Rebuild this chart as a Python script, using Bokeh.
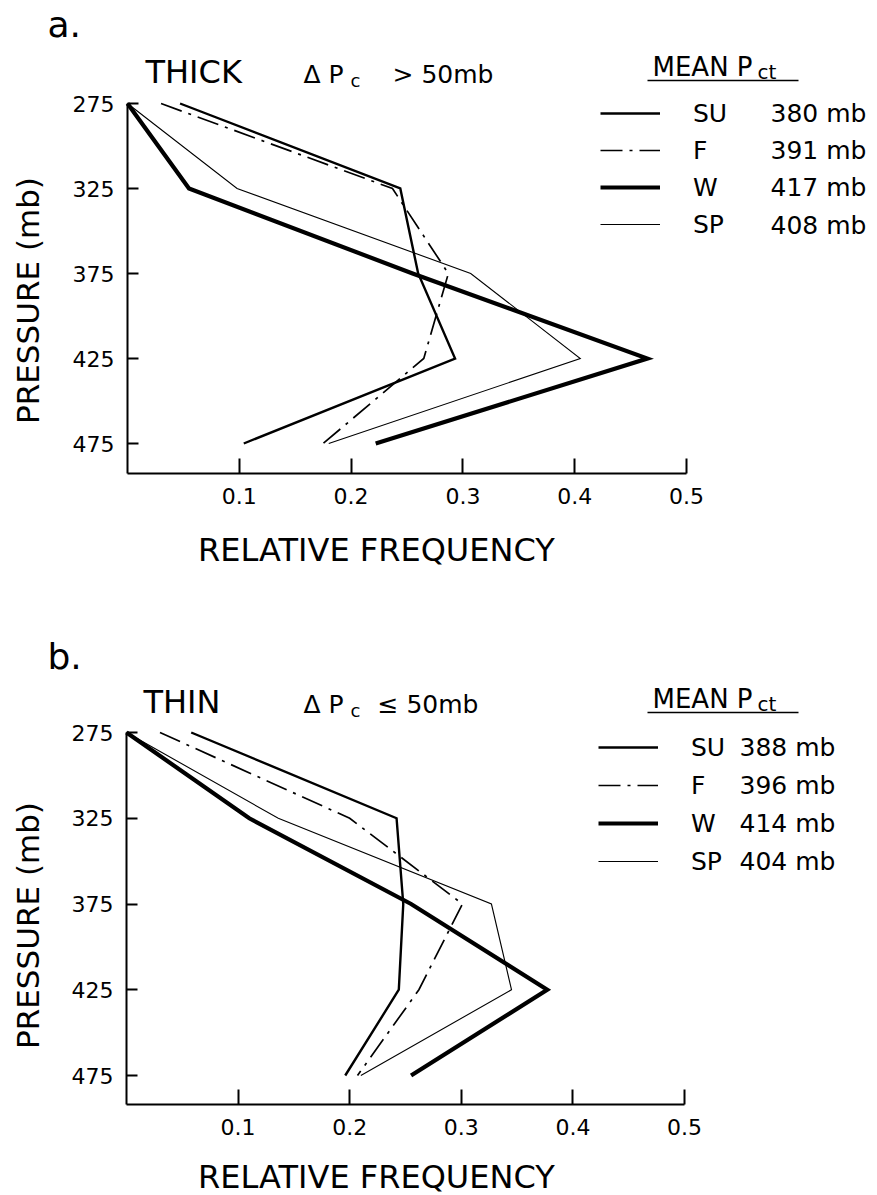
import math
from bokeh.plotting import figure
from bokeh.models import Range1d, FixedTicker, Label, Arrow
from bokeh.layouts import column
from bokeh.embed import file_html
from bokeh.resources import INLINE

# ---------------- data ----------------
pressure = [275, 325, 375, 425, 475]
pressure_ticks = [275, 325, 375, 425, 475]
pressure_tick_labels = ["275", "325", "375", "425", "475"]
freq_ticks = [0.1, 0.2, 0.3, 0.4, 0.5]
freq_tick_labels = ["0.1", "0.2", "0.3", "0.4", "0.5"]
seasons = ["SU", "F", "W", "SP"]

thick_su = [0.047, 0.244, 0.260, 0.293, 0.104]
thick_f = [0.030, 0.237, 0.287, 0.265, 0.175]
thick_w = [0.000, 0.055, 0.255, 0.465, 0.222]
thick_sp = [0.000, 0.098, 0.307, 0.405, 0.180]
thick_mean_pct = ["380 mb", "391 mb", "417 mb", "408 mb"]

thin_su = [0.058, 0.242, 0.248, 0.244, 0.196]
thin_f = [0.030, 0.200, 0.301, 0.262, 0.207]
thin_w = [0.000, 0.110, 0.255, 0.377, 0.255]
thin_sp = [0.000, 0.136, 0.327, 0.345, 0.210]
thin_mean_pct = ["388 mb", "396 mb", "414 mb", "404 mb"]

# ---------------- styles ----------------
FONT = "DejaVu Sans"
LINE_STYLE = {
    "SU": dict(line_width=2.4),
    "F": dict(line_width=1.7, line_dash="22 7 3 7"),
    "W": dict(line_width=4.2),
    "SP": dict(line_width=1.1),
}
WIDTH = 876


def make_panel(cfg, series, mean_pct, tag, kind, cond):
    H = cfg["height"]
    top = cfg["top"]
    x0, xs = cfg["x0"], cfg["xs"]
    y0, ys = cfg["y0"], cfg["ys"]
    ybot = cfg["ybot"]

    def X(px):
        return (px - x0) / xs

    def Y(py):
        return 275 + (py - y0) / ys

    p = figure(width=WIDTH, height=H, output_backend="svg", toolbar_location=None,
               x_range=Range1d(X(0), X(WIDTH)), y_range=Range1d(Y(top + H), Y(top)),
               min_border=0)
    p.outline_line_color = None
    p.grid.visible = False
    p.background_fill_color = "white"
    p.border_fill_color = "white"

    for s, vals in zip(seasons, series):
        p.line(vals, pressure, line_color="black", line_join="miter",
               legend_label=s, **LINE_STYLE[s])

    # axes drawn at fixed data locations so that the whole canvas is the frame
    xa = p.xaxis[0]
    xa.fixed_location = Y(ybot)
    xa.bounds = (0, 0.5)
    xa.ticker = FixedTicker(ticks=freq_ticks)
    xa.major_label_overrides = dict(zip(freq_ticks, freq_tick_labels))
    xa.major_label_standoff = cfg["xtick_standoff"]
    ya = p.yaxis[0]
    ya.fixed_location = 0
    ya.bounds = (275, Y(ybot))
    ya.ticker = FixedTicker(ticks=pressure_ticks)
    ya.major_label_overrides = dict(zip(pressure_ticks, pressure_tick_labels))
    ya.major_label_standoff = 13
    for ax, tin in ((xa, 15), (ya, 11)):
        ax.major_tick_in = tin
        ax.major_tick_out = 0
        ax.minor_tick_in = 0
        ax.minor_tick_out = 0
        ax.axis_line_width = 2
        ax.major_tick_line_width = 2
        ax.axis_line_color = "black"
        ax.major_tick_line_color = "black"
        ax.major_label_text_font = FONT
        ax.major_label_text_font_size = "22px"
        ax.major_label_text_color = "black"

    def lab(px, py, text, size, align="left", angle=0.0):
        p.add_layout(Label(x=X(px), y=Y(py), text=text, text_font=FONT,
                           text_font_size=size, text_color="black", angle=angle,
                           text_baseline="middle", text_align=align))

    # axis titles
    lab(cfg["xlab_x"], cfg["xlab_y"], "RELATIVE  FREQUENCY", "32px", "center")
    lab(27, cfg["ylab_y"], "PRESSURE (mb)", "31px", "center", math.pi / 2)

    # legend
    leg = p.legend[0]
    pitch = cfg["pitch"]
    gh = 30
    spacing = pitch - gh
    leg_top = cfg["rows"][0] - gh / 2
    leg_bottom = leg_top + 4 * gh + 3 * spacing
    leg.location = (cfg["leg_x"], top + H - leg_bottom)
    leg.glyph_width = 60
    leg.glyph_height = gh
    leg.label_height = gh
    leg.label_standoff = 33
    leg.spacing = int(spacing)
    leg.padding = 0
    leg.margin = 0
    leg.border_line_color = None
    leg.background_fill_alpha = 0
    leg.label_text_font = FONT
    leg.label_text_font_size = "25px"
    leg.label_text_color = "black"

    for row_y, txt in zip(cfg["rows"], mean_pct):
        lab(cfg["val_x"], row_y, txt, "25px")

    # legend header (baseline positions converted to text middles)
    hb = cfg["head_base"]
    lab(652, hb - 9, "MEAN P", "26px")
    lab(757, hb + 3 - 7, "ct", "20px")
    p.add_layout(Arrow(end=None, x_start=X(647), y_start=Y(hb + 5), x_end=X(798),
                       y_end=Y(hb + 5), line_width=1.6, line_color="black"))

    # panel tag and titles
    kb = cfg["kind_base"]
    lab(47, cfg["tag_base"] - 12.5, tag, "36px")
    lab(cfg["kind_x"], kb - 11, kind, "32px")
    lab(303, kb - 8.5, "\u0394 P", "25px")
    lab(350, kb + 4 - 6, "c", "18px")
    lab(cfg["cond_x"], kb - 8.5, cond, "25px")
    return p


cfg_a = dict(height=597, top=0, x0=127, xs=1118, y0=103, ys=1.7, ybot=473,
             xtick_standoff=14, xlab_x=381, xlab_y=549, ylab_y=300,
             rows=[113, 150, 187, 225], pitch=37, leg_x=600, val_x=770,
             head_base=75, kind_base=82, tag_base=36, kind_x=145, cond_x=392)
cfg_b = dict(height=597, top=597, x0=126, xs=1116, y0=732, ys=1.715, ybot=1104,
             xtick_standoff=14, xlab_x=381, xlab_y=1176, ylab_y=925,
             rows=[747, 785, 823, 861], pitch=38, leg_x=598, val_x=739,
             head_base=707, kind_base=712, tag_base=668, kind_x=143, cond_x=377)

pa = make_panel(cfg_a, [thick_su, thick_f, thick_w, thick_sp], thick_mean_pct,
                "a.", "THICK", "> 50mb")
pb = make_panel(cfg_b, [thin_su, thin_f, thin_w, thin_sp], thin_mean_pct,
                "b.", "THIN", "\u2264 50mb")

layout = column(pa, pb, spacing=0)
open("out.html", "w").write(file_html(layout, INLINE))
